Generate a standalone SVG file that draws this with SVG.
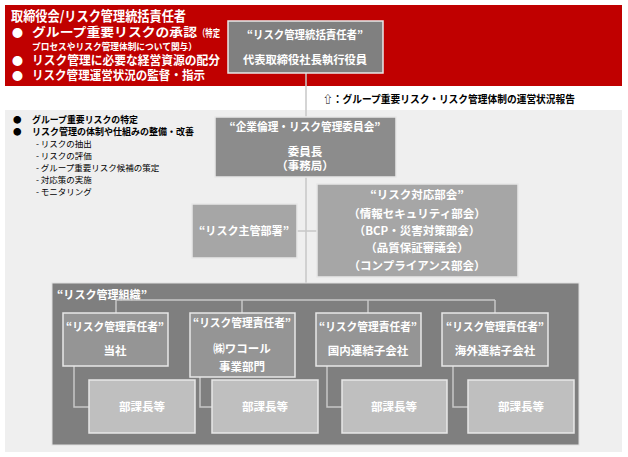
<svg xmlns="http://www.w3.org/2000/svg" width="628" height="457" viewBox="0 0 628 457">
<style>
text{font-family:"Noto Sans CJK JP","Liberation Sans",sans-serif;font-weight:bold}
.w{fill:#fff;font-size:11.5px;text-anchor:middle}
.rw{fill:#fff}
.k{fill:#000}
.n{stroke:#e8e8e8;stroke-width:1.5}
.ln{stroke:#c8c8c8;stroke-width:1.5;fill:none}
</style>
<rect x="0" y="0" width="628" height="457" fill="#fff"/>
<g id="board">
<rect x="5" y="5" width="617" height="81" fill="#c00000"/>
<text class="rw" x="11" y="21" font-size="13.5" textLength="175" lengthAdjust="spacingAndGlyphs">取締役会/リスク管理統括責任者</text>
<text class="rw" x="12" y="37" font-size="11">●</text>
<text class="rw" x="32" y="37" font-size="12.5" textLength="165" lengthAdjust="spacingAndGlyphs">グループ重要リスクの承認</text>
<text class="rw" x="198" y="37" font-size="10" textLength="22" lengthAdjust="spacingAndGlyphs">（特定</text>
<text class="rw" x="32" y="50" font-size="9.5" textLength="165" lengthAdjust="spacingAndGlyphs">プロセスやリスク管理体制について関与）</text>
<text class="rw" x="12" y="65" font-size="11">●</text>
<text class="rw" x="32" y="65" font-size="12.5" textLength="188" lengthAdjust="spacingAndGlyphs">リスク管理に必要な経営資源の配分</text>
<text class="rw" x="12" y="80" font-size="11">●</text>
<text class="rw" x="32" y="80" font-size="12.5" textLength="173" lengthAdjust="spacingAndGlyphs">リスク管理運営状況の監督・指示</text>
</g>
<rect x="5" y="110" width="617" height="342" fill="#efefef"/>
<g id="connectors">
<path class="ln" d="M306 73V300M297 231H317M116 313V300H495V313M242 300V313M368 300V313M74 366V407H89M200 377V407H212M327 366V407H342M453 366V407H468"/>
</g>
<text class="k" x="323" y="103" font-size="10.5" textLength="252" lengthAdjust="spacingAndGlyphs">⇧：グループ重要リスク・リスク管理体制の運営状況報告</text>
<g id="left-notes" class="k">
<text x="13" y="123" font-size="8.5">●</text><text x="32" y="123" font-size="9.5" textLength="106" lengthAdjust="spacingAndGlyphs">グループ重要リスクの特定</text>
<text x="13" y="135" font-size="8.5">●</text><text x="32" y="135" font-size="9.5" textLength="162" lengthAdjust="spacingAndGlyphs">リスク管理の体制や仕組みの整備・改善</text>
<text x="36" y="147" font-size="8.5" style="font-weight:normal">- リスクの抽出</text>
<text x="36" y="159" font-size="8.5" style="font-weight:normal">- リスクの評価</text>
<text x="36" y="171" font-size="8.5" style="font-weight:normal">- グループ重要リスク候補の策定</text>
<text x="36" y="183" font-size="8.5" style="font-weight:normal">- 対応策の実施</text>
<text x="36" y="195" font-size="8.5" style="font-weight:normal">- モニタリング</text>
</g>
<g id="top-node">
<rect class="n" x="228" y="21" width="155" height="52" fill="#808080"/>
<text class="w" x="305" y="39" textLength="116" lengthAdjust="spacingAndGlyphs">“リスク管理統括責任者”</text>
<text class="w" x="305" y="64" textLength="124" lengthAdjust="spacingAndGlyphs">代表取締役社長執行役員</text>
</g>
<g id="committee">
<rect class="n" x="215" y="117" width="181" height="60" fill="#8c8c8c"/>
<text class="w" x="305" y="131" textLength="151" lengthAdjust="spacingAndGlyphs">“企業倫理・リスク管理委員会”</text>
<text class="w" x="305" y="156">委員長</text>
<text class="w" x="305" y="170">（事務局）</text>
</g>
<g id="risk-dept">
<rect class="n" x="192" y="204" width="105" height="54" fill="#a6a6a6"/>
<text class="w" x="244" y="235" textLength="90" lengthAdjust="spacingAndGlyphs">“リスク主管部署”</text>
</g>
<g id="risk-response">
<rect class="n" x="317" y="184" width="201" height="93" fill="#a6a6a6"/>
<text class="w" x="417" y="199">“リスク対応部会”</text>
<text class="w" x="417" y="218">（情報セキュリティ部会）</text>
<text class="w" x="417" y="235">（BCP・災害対策部会）</text>
<text class="w" x="417" y="252">（品質保証審議会）</text>
<text class="w" x="417" y="270">（コンプライアンス部会）</text>
</g>
<g id="org">
<rect x="52" y="283" width="527" height="162" fill="#7f7f7f" stroke="#e0e0e0"/>
<text class="rw" x="57" y="299" font-size="11.5" textLength="90" lengthAdjust="spacingAndGlyphs">“リスク管理組織”</text>
</g>
<path class="ln" d="M116 300H495M116 300V313M242 300V313M368 300V313M495 300V313M74 366V407H89M200 377V407H212M327 366V407H342M453 366V407H468"/>
<g id="mgr1"><rect class="n" x="63" y="313" width="105" height="53" fill="#959595"/>
<text class="w" x="115" y="331" textLength="98" lengthAdjust="spacingAndGlyphs">“リスク管理責任者”</text><text class="w" x="115" y="355">当社</text></g>
<g id="mgr2"><rect class="n" x="190" y="313" width="105" height="64" fill="#959595"/>
<text class="w" x="242" y="327" textLength="98" lengthAdjust="spacingAndGlyphs">“リスク管理責任者”</text><text class="w" x="242" y="353">㈱ワコール</text><text class="w" x="242" y="371">事業部門</text></g>
<g id="mgr3"><rect class="n" x="316" y="313" width="105" height="53" fill="#959595"/>
<text class="w" x="368" y="331" textLength="98" lengthAdjust="spacingAndGlyphs">“リスク管理責任者”</text><text class="w" x="368" y="355">国内連結子会社</text></g>
<g id="mgr4"><rect class="n" x="442" y="313" width="106" height="53" fill="#959595"/>
<text class="w" x="495" y="331" textLength="98" lengthAdjust="spacingAndGlyphs">“リスク管理責任者”</text><text class="w" x="495" y="355">海外連結子会社</text></g>
<g id="sub1"><rect class="n" x="89" y="380" width="106" height="53" fill="#bfbfbf"/><text class="w" x="142" y="411">部課長等</text></g>
<g id="sub2"><rect class="n" x="212" y="380" width="106" height="53" fill="#bfbfbf"/><text class="w" x="265" y="411">部課長等</text></g>
<g id="sub3"><rect class="n" x="342" y="380" width="105" height="53" fill="#bfbfbf"/><text class="w" x="394" y="411">部課長等</text></g>
<g id="sub4"><rect class="n" x="468" y="380" width="106" height="53" fill="#bfbfbf"/><text class="w" x="521" y="411">部課長等</text></g>
</svg>
